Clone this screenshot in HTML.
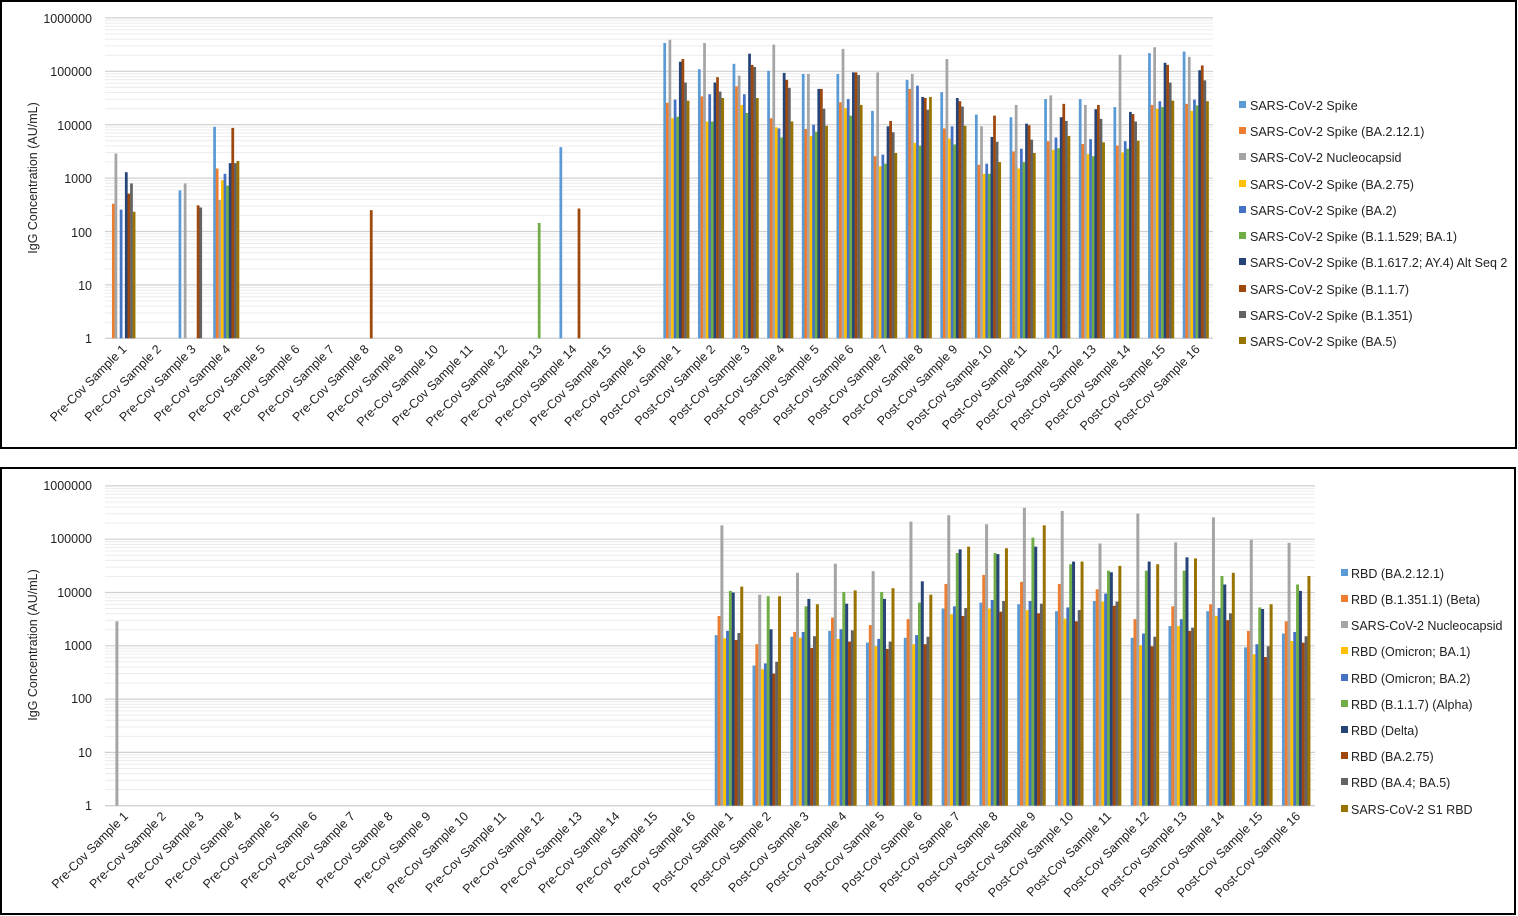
<!DOCTYPE html>
<html><head><meta charset="utf-8"><style>
html,body{margin:0;padding:0;background:#fff;}
svg{display:block;font-family:"Liberation Sans",Arial,sans-serif;}
.t{font-size:12.5px;fill:#222;}
.lg{font-size:12.5px;fill:#222;}
</style></head><body>
<svg id="s" width="1518" height="916" xmlns="http://www.w3.org/2000/svg">
<rect x="0" y="0" width="1518" height="916" fill="#fff"/>
<rect x="1" y="1" width="1515" height="447" fill="none" stroke="#000" stroke-width="2"/>
<rect x="1" y="468" width="1514" height="446" fill="none" stroke="#000" stroke-width="2"/>
<g id="grid"></g>
<g id="bars"></g>
<g class="t" text-anchor="end">
<text x="92" y="23">1000000</text><text x="92" y="76">100000</text><text x="92" y="130">10000</text>
<text x="92" y="183">1000</text><text x="92" y="237">100</text><text x="92" y="290">10</text><text x="92" y="343">1</text>
<text x="92" y="490">1000000</text><text x="92" y="543">100000</text><text x="92" y="597">10000</text>
<text x="92" y="650">1000</text><text x="92" y="703">100</text><text x="92" y="757">10</text><text x="92" y="810">1</text>
</g>
<text class="t" transform="translate(37,178) rotate(-90)" text-anchor="middle">IgG Concentration (AU/mL)</text>
<text class="t" transform="translate(37,645) rotate(-90)" text-anchor="middle">IgG Concentration (AU/mL)</text>
<g id="xl1" class="t" text-anchor="end"></g>
<g id="xl2" class="t" text-anchor="end"></g>
<g class="lg">
<rect x="1239" y="101" width="7" height="7" fill="#5b9bd5"/><text x="1250" y="110">SARS-CoV-2 Spike</text>
<rect x="1239" y="127" width="7" height="7" fill="#ed7d31"/><text x="1250" y="136">SARS-CoV-2 Spike (BA.2.12.1)</text>
<rect x="1239" y="153" width="7" height="7" fill="#a5a5a5"/><text x="1250" y="162">SARS-CoV-2 Nucleocapsid</text>
<rect x="1239" y="180" width="7" height="7" fill="#ffc000"/><text x="1250" y="189">SARS-CoV-2 Spike (BA.2.75)</text>
<rect x="1239" y="206" width="7" height="7" fill="#4472c4"/><text x="1250" y="215">SARS-CoV-2 Spike (BA.2)</text>
<rect x="1239" y="232" width="7" height="7" fill="#70ad47"/><text x="1250" y="241">SARS-CoV-2 Spike (B.1.1.529; BA.1)</text>
<rect x="1239" y="258" width="7" height="7" fill="#264478"/><text x="1250" y="267">SARS-CoV-2 Spike (B.1.617.2; AY.4) Alt Seq 2</text>
<rect x="1239" y="285" width="7" height="7" fill="#9e480e"/><text x="1250" y="294">SARS-CoV-2 Spike (B.1.1.7)</text>
<rect x="1239" y="311" width="7" height="7" fill="#636363"/><text x="1250" y="320">SARS-CoV-2 Spike (B.1.351)</text>
<rect x="1239" y="337" width="7" height="7" fill="#997300"/><text x="1250" y="346">SARS-CoV-2 Spike (BA.5)</text>

<rect x="1341" y="569" width="7" height="7" fill="#5b9bd5"/><text x="1351" y="578">RBD (BA.2.12.1)</text>
<rect x="1341" y="595" width="7" height="7" fill="#ed7d31"/><text x="1351" y="604">RBD (B.1.351.1) (Beta)</text>
<rect x="1341" y="621" width="7" height="7" fill="#a5a5a5"/><text x="1351" y="630">SARS-CoV-2 Nucleocapsid</text>
<rect x="1341" y="647" width="7" height="7" fill="#ffc000"/><text x="1351" y="656">RBD (Omicron; BA.1)</text>
<rect x="1341" y="674" width="7" height="7" fill="#4472c4"/><text x="1351" y="683">RBD (Omicron; BA.2)</text>
<rect x="1341" y="700" width="7" height="7" fill="#70ad47"/><text x="1351" y="709">RBD (B.1.1.7) (Alpha)</text>
<rect x="1341" y="726" width="7" height="7" fill="#264478"/><text x="1351" y="735">RBD (Delta)</text>
<rect x="1341" y="752" width="7" height="7" fill="#9e480e"/><text x="1351" y="761">RBD (BA.2.75)</text>
<rect x="1341" y="778" width="7" height="7" fill="#636363"/><text x="1351" y="787">RBD (BA.4; BA.5)</text>
<rect x="1341" y="805" width="7" height="7" fill="#997300"/><text x="1351" y="814">SARS-CoV-2 S1 RBD</text>
</g>
</svg>
<script>
(function(){
var NS="http://www.w3.org/2000/svg";
var C=["#5b9bd5","#ed7d31","#a5a5a5","#ffc000","#4472c4","#70ad47","#264478","#9e480e","#636363","#997300"];
function el(t,a,p){var e=document.createElementNS(NS,t);for(var k in a)e.setAttribute(k,a[k]);p.appendChild(e);return e;}
var grid=document.getElementById("grid"),bars=document.getElementById("bars");
var ct={x0:105,x1:1213,y1:338.3,dec:53.4};
var cb={x0:105,x1:1315,y1:805.7,dec:53.3};
function drawGrid(c){
 for(var d=0;d<6;d++){for(var m=1;m<=9;m++){var y=c.y1-(d+Math.log10(m))*c.dec;
  el("line",{x1:c.x0,x2:c.x1,y1:y,y2:y,stroke:m==1?"#d0d0d0":"#ececec","stroke-width":m==1?1.2:1},grid);}}
 var y=c.y1-6*c.dec;el("line",{x1:c.x0,x2:c.x1,y1:y,y2:y,stroke:"#d0d0d0","stroke-width":1.2},grid);
 el("line",{x1:c.x0,x2:c.x1,y1:c.y1,y2:c.y1,stroke:"#d0d0d0","stroke-width":1.2},grid);
}
drawGrid(ct);drawGrid(cb);
var T={};
T[0]=[0,2.52,3.46,0,2.41,0,3.11,2.71,2.90,2.37];
T[2]=[2.77,0,2.90,0,0,0,0,2.49,2.45,0];
T[3]=[3.96,3.18,2.59,2.96,3.08,2.86,3.28,3.94,3.28,3.32];
T[7]=[0,0,0,0,0,0,0,2.4,0,0];
T[12]=[0,0,0,0,0,2.16,0,0,0,0];
T[13]=[3.58,0,0,0,0,0,0,2.43,0,0];
var tp=[
[5.53,4.41,5.59,4.12,4.47,4.15,5.18,5.23,4.79,4.45],
[5.04,4.53,5.53,4.06,4.57,4.06,4.79,4.89,4.62,4.50],
[5.14,4.72,4.92,4.37,4.57,4.22,5.33,5.12,5.08,4.50],
[5.01,4.12,5.50,3.95,3.93,3.76,4.97,4.84,4.69,4.06],
[4.95,3.92,4.95,3.79,4.0,3.87,4.67,4.67,4.30,3.98],
[4.95,4.42,5.42,4.31,4.48,4.17,4.98,4.98,4.93,4.37],
[4.26,3.41,4.98,3.22,3.44,3.27,3.97,4.07,3.86,3.47],
[4.84,4.67,4.95,3.66,4.73,3.61,4.52,4.50,4.28,4.52],
[4.61,3.93,5.23,3.74,3.97,3.63,4.50,4.44,4.34,3.98],
[4.19,3.25,3.97,3.08,3.27,3.08,3.77,4.17,3.68,3.30],
[4.14,3.50,4.37,3.18,3.55,3.30,4.02,3.99,3.72,3.47],
[4.48,3.69,4.55,3.53,3.76,3.56,4.14,4.39,4.07,3.79],
[4.48,3.64,4.37,3.45,3.73,3.41,4.29,4.37,4.11,3.67],
[4.33,3.61,5.31,3.48,3.69,3.55,4.24,4.20,4.06,3.70],
[5.34,4.37,5.45,4.30,4.44,4.33,5.16,5.12,4.79,4.45],
[5.37,4.39,5.27,4.26,4.47,4.36,5.02,5.11,4.83,4.44]];
for(var i=0;i<16;i++)T[16+i]=tp[i];
var B={};
B[0]=[0,0,3.46,0,0,0,0,0,0,0];
var bp=[
[3.20,3.56,5.26,3.14,3.28,4.03,4.0,3.11,3.24,4.11],
[2.63,3.03,3.96,2.56,2.67,3.93,3.31,2.48,2.70,3.93],
[3.17,3.26,4.37,3.15,3.26,3.74,3.88,2.96,3.18,3.78],
[3.28,3.53,4.54,3.13,3.31,4.01,3.79,3.08,3.29,4.04],
[3.06,3.39,4.40,2.99,3.13,4.01,3.88,2.94,3.08,4.08],
[3.15,3.50,5.33,3.03,3.20,3.81,4.21,3.03,3.17,3.96],
[3.70,4.16,5.45,3.59,3.74,4.74,4.81,3.56,3.71,4.86],
[3.81,4.33,5.28,3.70,3.86,4.74,4.72,3.64,3.84,4.83],
[3.78,4.2,5.59,3.67,3.84,5.03,4.86,3.61,3.79,5.26],
[3.65,4.16,5.53,3.51,3.72,4.53,4.58,3.46,3.67,4.58],
[3.84,4.06,4.92,3.83,3.98,4.41,4.38,3.75,3.83,4.5],
[3.15,3.50,5.48,3.01,3.23,4.41,4.58,2.99,3.17,4.53],
[3.37,3.74,4.94,3.37,3.50,4.41,4.66,3.28,3.34,4.64],
[3.65,3.78,5.41,3.56,3.71,4.31,4.15,3.48,3.61,4.37],
[2.97,3.28,4.99,2.84,3.03,3.72,3.69,2.79,2.99,3.78],
[3.23,3.46,4.93,3.09,3.26,4.15,4.03,3.06,3.18,4.31]];
for(var i=0;i<16;i++)B[16+i]=bp[i];
function drawBars(c,D){
 var cw=(c.x1-c.x0)/32,gw=cw*0.75,bw=gw/10;
 for(var k in D){var v=D[k];var gx=c.x0+k*cw+(cw-gw)/2;
  for(var s=0;s<10;s++){if(!v[s])continue;var h=v[s]*c.dec;
   el("rect",{x:gx+s*bw,y:c.y1-h,width:bw+0.15,height:h,fill:C[s]},bars);}}
}
drawBars(ct,T);drawBars(cb,B);
function labels(id,c,ty){
 var g=document.getElementById(id),cw=(c.x1-c.x0)/32;
 for(var i=0;i<32;i++){var n=i<16?"Pre-Cov Sample "+(i+1):"Post-Cov Sample "+(i-15);
  var x=c.x0+(i+0.5)*cw+5;
  var t=el("text",{transform:"translate("+x+","+ty+") rotate(-45)"},g);t.textContent=n;}
}
labels("xl1",ct,350);labels("xl2",cb,817);
})();
</script>
</body></html>
